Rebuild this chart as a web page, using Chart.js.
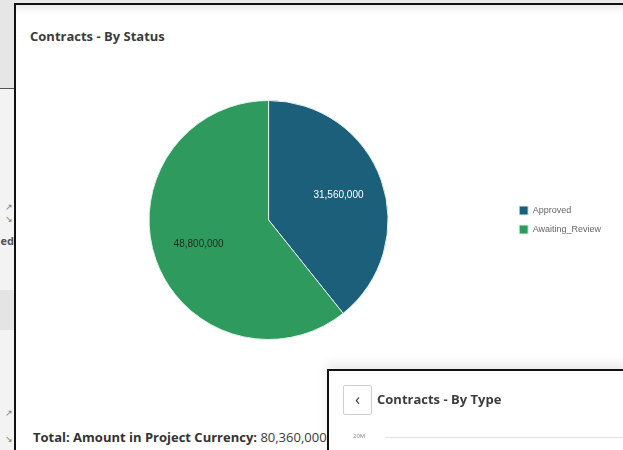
<!DOCTYPE html>
<html>
<head>
<meta charset="utf-8">
<script src="https://cdn.jsdelivr.net/npm/chart.js@4.4.1/dist/chart.umd.min.js"></script>
<style>
    html, body { margin: 0; padding: 0; }
    body {
        width: 623px; height: 450px; overflow: hidden; position: relative;
        background: #e9e9e9; font-family: "Open Sans", "Liberation Sans", sans-serif;
    }
    .side {
        position: absolute; left: 0; top: 0; width: 14px; height: 450px;
        background: #f3f3f3; overflow: hidden;
    }
    .side .top { position: absolute; left: 0; top: 0; width: 14px; height: 88px; background: #e6e6e6; border-bottom: 1px solid #555; }
    .side .band { position: absolute; left: 0; top: 290px; width: 14px; height: 40px; background: #e4e4e4; }
    .side .txt { position: absolute; right: 0; top: 233px; font-size: 11px; color: #555; font-weight: bold; }
    .side .ico { position: absolute; right: 1px; font-size: 9px; color: #777; }
    .panel {
        position: absolute; left: 14px; top: 3px; width: 700px; height: 500px;
        background: #fff; border-left: 2px solid #111; border-top: 2px solid #111;
        box-shadow: inset 0 8px 8px -6px rgba(0,0,0,0.12);
    }
    .title {
        position: absolute; left: 14px; top: 22px; font-size: 13px; font-weight: bold; color: #3c3c3c;
    }
    .total {
        position: absolute; left: 17px; top: 423px; font-size: 13px; color: #3a3a3a; white-space: nowrap;
    }
    .total b { color: #333; }
    #pieWrap { position: absolute; left: 0px; top: 55px; width: 607px; height: 320px; }
    .panel2 {
        position: absolute; left: 327px; top: 369px; width: 400px; height: 200px;
        background: #fff; border-left: 2px solid #111; border-top: 2px solid #111;
        box-shadow: 0 -6px 10px rgba(0,0,0,0.08);
    }
    .back {
        position: absolute; left: 14px; top: 14px; width: 27px; height: 28px;
        border: 1px solid #cfcfcf; border-radius: 2px; text-align: center;
        font-size: 17px; line-height: 25px; color: #333;
    }
    .title2 { position: absolute; left: 48px; top: 19px; font-size: 13px; font-weight: bold; color: #3c3c3c; }
    .tick2 { position: absolute; left: 24px; top: 61px; font-size: 6px; color: #888; }
    .grid2 { position: absolute; left: 56px; top: 66px; width: 400px; height: 1px; background: #e3e3e3; }
</style>
</head>
<body>
<div class="side">
    <div class="top"></div>
    <div class="band"></div>
    <div class="ico" style="top:200px">&#x2197;</div>
    <div class="ico" style="top:212px">&#x2198;</div>
    <div class="txt">ed</div>
    <div class="ico" style="top:406px">&#x2197;</div>
    <div class="ico" style="top:432px">&#x2198;</div>
</div>
<div class="panel">
    <div class="title">Contracts - By Status</div>
    <div id="pieWrap"><canvas id="statusChart"></canvas></div>
    <div class="total"><b>Total: Amount in Project Currency:</b> 80,360,000</div>
</div>
<div class="panel2">
    <div class="back">&lsaquo;</div>
    <div class="title2">Contracts - By Type</div>
    <div class="tick2">20M</div>
    <div class="grid2"></div>
</div>
<script>
// === Chart data ===
const statusLabels = ["Approved", "Awaiting_Review"];
const statusAmounts = [31560000, 48800000];
const statusColors = ["#1b5f7b", "#2f9a5e"];
const labelColors = ["#ffffff", "#1b2a20"];

// Draw the value inside each slice
const sliceLabels = {
    id: "sliceLabels",
    afterDatasetsDraw(chart) {
        const ctx = chart.ctx;
        const meta = chart.getDatasetMeta(0);
        ctx.save();
        ctx.font = "10px 'Liberation Sans', sans-serif";
        ctx.textAlign = "center";
        ctx.textBaseline = "middle";
        meta.data.forEach((arc, i) => {
            const p = arc.getProps(["x", "y", "startAngle", "endAngle", "outerRadius"], true);
            const mid = (p.startAngle + p.endAngle) / 2;
            const r = p.outerRadius * 0.62;
            ctx.fillStyle = labelColors[i];
            ctx.fillText(statusAmounts[i].toLocaleString("en-US"), p.x + Math.cos(mid) * r, p.y + Math.sin(mid) * r);
        });
        ctx.restore();
    }
};

document.addEventListener("DOMContentLoaded", () => {
    const ctx = document.getElementById("statusChart").getContext("2d");
    new Chart(ctx, {
        type: "pie",
        data: {
            labels: statusLabels,
            datasets: [{
                data: statusAmounts,
                backgroundColor: statusColors,
                borderColor: "#dff0ea",
                borderWidth: 1
            }]
        },
        options: {
            responsive: true,
            maintainAspectRatio: false,
            animation: false,
            layout: { padding: { left: 12, right: 12, top: 40, bottom: 40 } },
            plugins: {
                tooltip: { enabled: false },
                legend: {
                    position: "right",
                    labels: {
                        boxWidth: 9,
                        boxHeight: 9,
                        padding: 10,
                        color: "#666",
                        font: { size: 9, family: "'Liberation Sans', sans-serif" }
                    }
                }
            }
        },
        plugins: [sliceLabels]
    });
});
</script>
</body>
</html>
